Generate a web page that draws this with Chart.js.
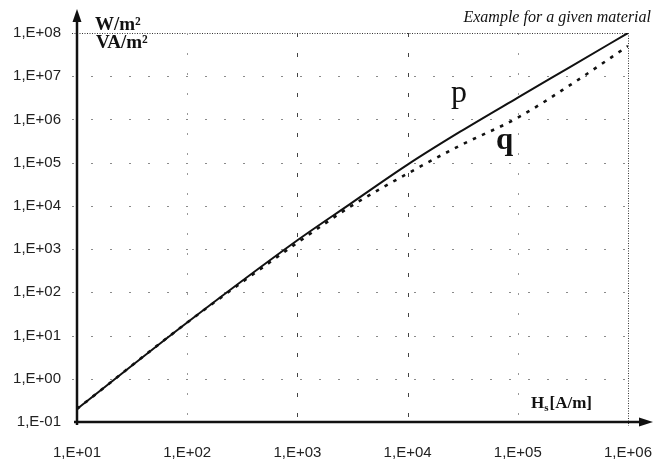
<!DOCTYPE html>
<html>
<head>
<meta charset="utf-8">
<script src="https://cdn.jsdelivr.net/npm/chart.js@4/dist/chart.umd.min.js"></script>
<style>
  html, body { margin: 0; padding: 0; background: #fff; }
  #wrap { width: 656px; height: 461px; }
</style>
</head>
<body>
<div id="wrap"><canvas id="chart" width="656" height="461"></canvas></div>
<script>
// field strength Hs [A/m] at the sample points
const hs = [10, 100, 1000, 3000, 10000, 30000, 100000, 300000, 1000000];
// specific losses p [W/m²] and reactive power q [VA/m²]
const pValues = [0.2, 20, 1600, 11000, 90000, 520000, 3200000, 16500000, 100000000];
const qValues = [0.2, 20, 1400, 9500, 56000, 250000, 1100000, 6300000, 50000000];

const xTicks = [10, 100, 1000, 10000, 100000, 1000000];
const xTickLabels = ['1,E+01', '1,E+02', '1,E+03', '1,E+04', '1,E+05', '1,E+06'];
const yTicks = [0.1, 1, 10, 100, 1000, 10000, 100000, 1000000, 10000000, 100000000];
const yTickLabels = ['1,E-01', '1,E+00', '1,E+01', '1,E+02', '1,E+03', '1,E+04', '1,E+05', '1,E+06', '1,E+07', '1,E+08'];

const serif = '"Liberation Serif", "DejaVu Serif", serif';

// Dotted grid, axis arrows and the free texts
const decor = {
    id: 'decor',
    beforeDatasetsDraw(chart) {
        const { ctx, chartArea: a } = chart;
        const xs = chart.scales.x, ys = chart.scales.y;
        ctx.save();
        // horizontal grid
        yTicks.forEach((v, i) => {
            if (i === 0) return;
            const y = Math.round(ys.getPixelForValue(v)) + 0.5;
            const top = i === yTicks.length - 1;
            ctx.beginPath();
            ctx.strokeStyle = top ? '#333' : '#8a8a8a';
            ctx.lineWidth = 1;
            ctx.setLineDash(top ? [1, 1.5] : [2, 17]);
            ctx.moveTo(a.left - 5, y);
            ctx.lineTo(a.right, y);
            ctx.stroke();
        });
        // vertical grid
        xTicks.forEach((v, i) => {
            if (i === 0) return;
            const x = Math.round(xs.getPixelForValue(v)) + 0.5;
            const last = i === xTicks.length - 1;
            const dark = i === 2 || i === 3;
            ctx.beginPath();
            ctx.strokeStyle = last ? '#333' : (dark ? '#444' : '#999');
            ctx.lineWidth = 1;
            ctx.setLineDash(last ? [1, 1.5] : (dark ? [4, 16] : [2, 18]));
            ctx.moveTo(x, a.top);
            ctx.lineTo(x, a.bottom + 4);
            ctx.stroke();
        });
        ctx.restore();
    },
    afterDraw(chart) {
        const { ctx, chartArea: a } = chart;
        ctx.save();
        ctx.setLineDash([]);
        ctx.strokeStyle = '#111';
        ctx.fillStyle = '#111';
        ctx.lineWidth = 2.5;
        // y axis with arrow
        ctx.beginPath();
        ctx.moveTo(a.left, a.bottom + 3);
        ctx.lineTo(a.left, 18);
        ctx.stroke();
        ctx.beginPath();
        ctx.moveTo(a.left, 9);
        ctx.lineTo(a.left - 4.5, 22);
        ctx.lineTo(a.left + 4.5, 22);
        ctx.closePath();
        ctx.fill();
        // x axis with arrow
        ctx.beginPath();
        ctx.moveTo(a.left - 3, a.bottom);
        ctx.lineTo(644, a.bottom);
        ctx.stroke();
        ctx.beginPath();
        ctx.moveTo(653, a.bottom);
        ctx.lineTo(639, a.bottom - 4.5);
        ctx.lineTo(639, a.bottom + 4.5);
        ctx.closePath();
        ctx.fill();

        // texts
        ctx.fillStyle = '#111';
        ctx.textAlign = 'left';
        ctx.textBaseline = 'alphabetic';
        ctx.font = 'bold 19px ' + serif;
        ctx.fillText('W/m²', 95, 30);
        ctx.fillText('VA/m²', 96, 48);
        ctx.font = 'italic 16px ' + serif;
        ctx.textAlign = 'right';
        ctx.fillText('Example for a given material', 651, 22);
        ctx.textAlign = 'left';
        ctx.font = '32px ' + serif;
        ctx.fillText('p', 451, 102);
        ctx.font = 'bold 31px ' + serif;
        ctx.fillText('q', 496, 149);
        // Hs[A/m]
        ctx.font = 'bold 17px ' + serif;
        ctx.fillText('H', 531, 408);
        let w = ctx.measureText('H').width;
        ctx.font = 'bold 11px ' + serif;
        ctx.fillText('s', 531 + w, 411);
        w += ctx.measureText('s').width + 1;
        ctx.font = 'bold 17px ' + serif;
        ctx.fillText('[A/m]', 531 + w, 408);
        ctx.restore();
    }
};

const ctx = document.getElementById('chart').getContext('2d');
new Chart(ctx, {
    type: 'scatter',
    data: {
        datasets: [
            {
                label: 'q',
                data: hs.map((h, i) => ({ x: h, y: qValues[i] })),
                showLine: true,
                borderColor: '#111',
                borderWidth: 2.6,
                borderDash: [3.5, 6.5],
                pointRadius: 0,
                cubicInterpolationMode: 'monotone'
            },
            {
                label: 'p',
                data: hs.map((h, i) => ({ x: h, y: pValues[i] })),
                showLine: true,
                borderColor: '#111',
                borderWidth: 2,
                pointRadius: 0,
                cubicInterpolationMode: 'monotone'
            }
        ]
    },
    options: {
        responsive: false,
        animation: false,
        layout: { padding: { top: 33, right: 28, left: 0, bottom: 0 } },
        plugins: {
            legend: { display: false },
            tooltip: { enabled: false }
        },
        scales: {
            x: {
                type: 'logarithmic',
                min: 10,
                max: 1000000,
                afterBuildTicks: s => { s.ticks = xTicks.map(v => ({ value: v })); },
                afterFit: s => { s.height = 39; s.paddingLeft = 0; s.paddingRight = 0; },
                grid: { display: false },
                border: { display: false },
                ticks: {
                    autoSkip: false,
                    maxRotation: 0,
                    padding: 14,
                    color: '#222',
                    font: { family: '"Liberation Sans", Arial, sans-serif', size: 15 },
                    callback: (v, i) => xTickLabels[i]
                }
            },
            y: {
                type: 'logarithmic',
                min: 0.1,
                max: 100000000,
                afterBuildTicks: s => { s.ticks = yTicks.map(v => ({ value: v })); },
                afterFit: s => { s.width = 77; s.paddingTop = 0; s.paddingBottom = 0; },
                grid: { display: false },
                border: { display: false },
                ticks: {
                    autoSkip: false,
                    padding: 8,
                    color: '#222',
                    font: { family: '"Liberation Sans", Arial, sans-serif', size: 15 },
                    callback: (v, i) => yTickLabels[i]
                }
            }
        }
    },
    plugins: [decor]
});
</script>
</body>
</html>
